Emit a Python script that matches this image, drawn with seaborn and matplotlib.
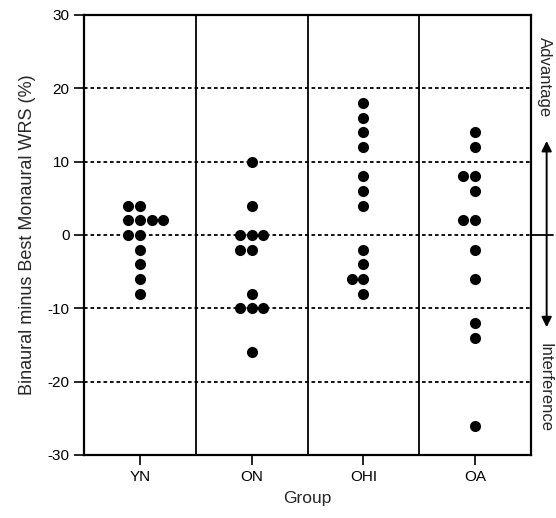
import seaborn as sns
import matplotlib.pyplot as plt
import pandas as pd

groups = ['YN', 'ON', 'OHI', 'OA']
yn = [4, 4, 2, 2, 2, 2, 0, 0, -2, -4, -6, -8]
on = [10, 4, 0, 0, 0, -2, -2, -8, -10, -10, -10, -16]
ohi = [18, 16, 14, 12, 8, 6, 4, -2, -4, -6, -6, -8]
oa = [14, 12, 8, 8, 6, 2, 2, -2, -6, -12, -14, -26]

df = pd.DataFrame({
    'Group': ['YN'] * len(yn) + ['ON'] * len(on) + ['OHI'] * len(ohi) + ['OA'] * len(oa),
    'diff': yn + on + ohi + oa,
})

sns.set_style('white')
plt.rcParams['font.family'] = ['Liberation Sans', 'DejaVu Sans']

fig = plt.figure(figsize=(5.56, 5.18), dpi=100)
ax = fig.add_axes([84 / 556, 1 - 455 / 518, (531 - 84) / 556, (455 - 15) / 518])

for yv in [20, 10, 0, -10, -20]:
    ax.axhline(yv, color='black', lw=1.3, linestyle=(0, (2, 1.6)), zorder=1)
for xv in [0.5, 1.5, 2.5]:
    ax.axvline(xv, color='black', lw=1.3, zorder=1)

sns.swarmplot(data=df, x='Group', y='diff', order=groups, color='black',
              size=8, ax=ax, zorder=3)

ax.set_xlim(-0.5, 3.5)
ax.set_ylim(-30, 30)
ax.set_yticks([-30, -20, -10, 0, 10, 20, 30])
ax.set_yticklabels(['-30', '-20', '-10', '0', '10', '20', '30'])
ax.tick_params(axis='both', direction='out', length=7, width=1.2, labelsize=11,
               left=True, bottom=True, colors='black')
for s in ax.spines.values():
    s.set_color('black')
    s.set_linewidth(1.6)

ax.set_xlabel('Group', fontsize=12.5, labelpad=5)
ax.set_ylabel('Binaural minus Best Monaural WRS (%)', fontsize=13, labelpad=8)

# right-hand annotation
ax.annotate('', xy=(1.035, 0.72), xytext=(1.035, 0.284), xycoords='axes fraction',
            arrowprops=dict(arrowstyle='<|-|>', color='black', lw=1.4,
                            mutation_scale=15), annotation_clip=False)
ax.plot([1.0, 1.05], [0.5, 0.5], transform=ax.transAxes, color='black',
        lw=1.3, clip_on=False)
ax.text(1.031, 0.95, 'Advantage', transform=ax.transAxes, rotation=270,
        ha='center', va='top', fontsize=12)
ax.text(1.031, 0.255, 'Interference', transform=ax.transAxes, rotation=270,
        ha='center', va='top', fontsize=12)

fig.savefig('out.png', dpi=100)
